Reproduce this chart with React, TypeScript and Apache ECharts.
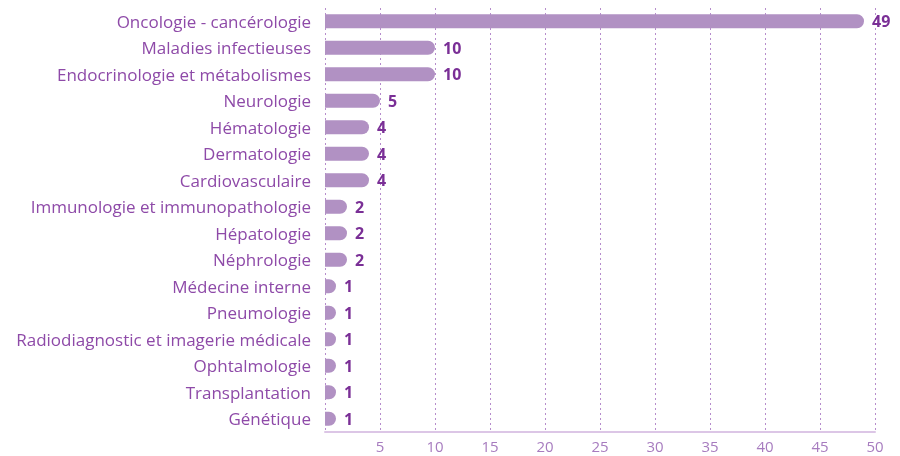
import React, { useEffect, useRef } from "react";
import * as echarts from "echarts";

const categories = [
  "Oncologie - cancérologie",
  "Maladies infectieuses",
  "Endocrinologie et métabolismes",
  "Neurologie",
  "Hématologie",
  "Dermatologie",
  "Cardiovasculaire",
  "Immunologie et immunopathologie",
  "Hépatologie",
  "Néphrologie",
  "Médecine interne",
  "Pneumologie",
  "Radiodiagnostic et imagerie médicale",
  "Ophtalmologie",
  "Transplantation",
  "Génétique",
];
const values = [49, 10, 10, 5, 4, 4, 4, 2, 2, 2, 1, 1, 1, 1, 1, 1];

export default function App() {
  const ref = useRef<HTMLDivElement>(null);
  useEffect(() => {
    const chart = echarts.init(ref.current!, undefined, { renderer: "svg" });
    chart.setOption({
      animation: false,
      grid: { left: 325, right: 25, top: 8, bottom: 24, containLabel: false },
      xAxis: {
        type: "value",
        min: 0,
        max: 50,
        interval: 5,
        axisLine: { show: true, lineStyle: { color: "#dcc6e6", width: 2 } },
        axisTick: { show: false },
        axisLabel: {
          color: "#a77cbf",
          fontFamily: "Open Sans",
          fontSize: 15,
          margin: 6,
          formatter: (v: number) => (v === 0 ? "" : String(v)),
        },
        splitLine: {
          show: true,
          lineStyle: { color: "#b68ccc", type: [2, 3], width: 1 },
        },
      },
      yAxis: {
        type: "category",
        data: categories,
        inverse: true,
        axisLine: { show: false },
        axisTick: { show: false },
        axisLabel: {
          color: "#8e4aa8",
          fontFamily: "Open Sans",
          fontSize: 17,
          margin: 14,
        },
      },
      series: [
        {
          type: "bar",
          data: values,
          barWidth: 14,
          itemStyle: { color: "#b191c3", borderRadius: [0, 7, 7, 0] },
          label: {
            show: true,
            position: "right",
            distance: 8,
            color: "#7a2f96",
            fontFamily: "Open Sans",
            fontWeight: "bold",
            fontSize: 16,
          },
        },
      ],
    });
    return () => chart.dispose();
  }, []);
  return (
    <div
      ref={ref}
      style={{ position: "fixed", left: 0, top: 0, width: 900, height: 456 }}
    />
  );
}
